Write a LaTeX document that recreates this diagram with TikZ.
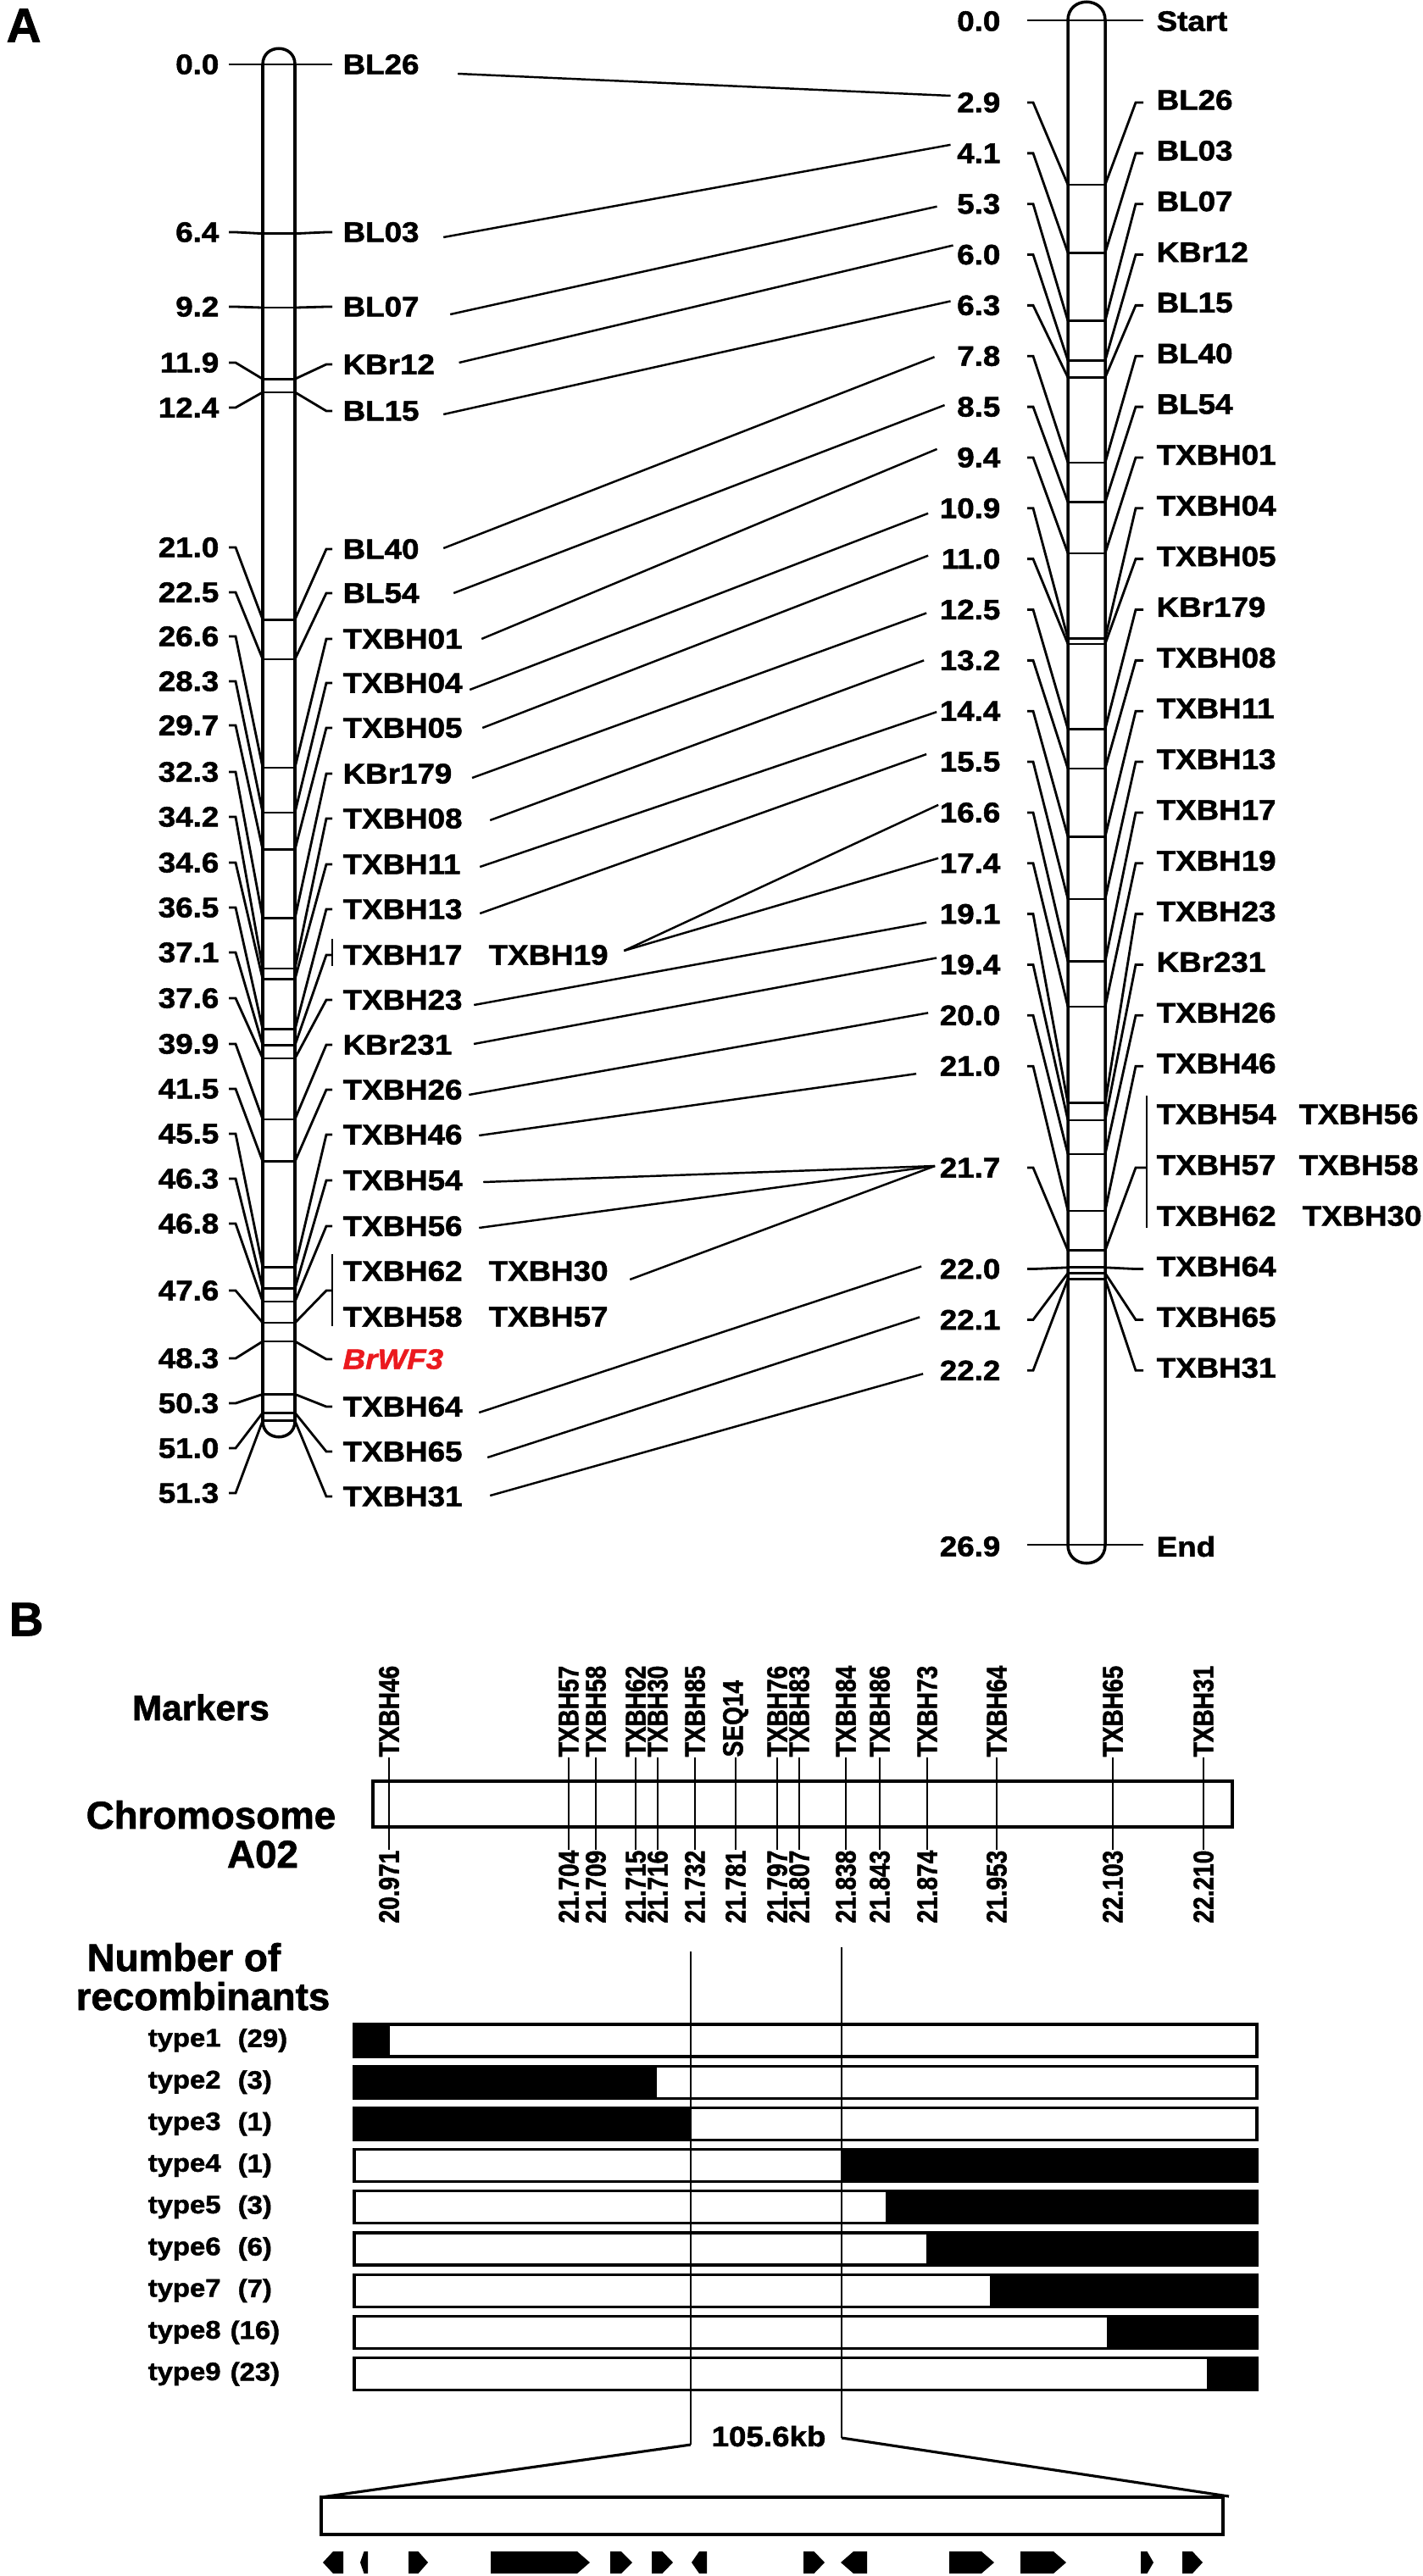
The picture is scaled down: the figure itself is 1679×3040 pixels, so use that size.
\documentclass[tikz,border=0pt]{standalone}
\usepackage{fontspec}
\setmainfont{Liberation Sans}
\newfontfamily\wideface{Liberation Sans}[FakeStretch=1.1,FakeBold=1.5]
\newfontfamily\narrowface{Liberation Sans}[FakeStretch=0.84,FakeBold=1.5]
\newfontfamily\headface{Liberation Sans}[FakeBold=1.5]
\usepackage{tikz}
\usetikzlibrary{calc}
\definecolor{wfred}{RGB}{235,25,30}
\tikzset{
	numnode/.style={anchor=east, inner sep=0pt, font=\wideface\bfseries\fontsize{9.5}{11}\selectfont},
	lblnode/.style={anchor=west, inner sep=0pt, font=\wideface\bfseries\fontsize{9.5}{11}\selectfont},
	mkname/.style={rotate=90, anchor=west, inner sep=0pt, font=\narrowface\bfseries\fontsize{9.5}{11}\selectfont},
	mkpos/.style={rotate=90, anchor=east, inner sep=0pt, font=\narrowface\bfseries\fontsize{9.5}{11}\selectfont},
	headnode/.style={inner sep=0pt, font=\headface\bfseries\fontsize{13}{15}\selectfont},
	typenode/.style={anchor=west, inner sep=0pt, font=\wideface\bfseries\fontsize{8.5}{10}\selectfont},
	conn/.style={line width=0.8pt},
	midline/.style={line width=0.7pt},
	chromline/.style={line width=1pt, fill=white},
	markline/.style={line width=0.75pt},
	barline/.style={line width=0.9pt}
}

\begin{document}
\begin{tikzpicture}[x=0.1mm,y=-0.1mm]
	\useasboundingbox (0,0) rectangle (1679,3040);
	\clip (0,0) rectangle (1679,3040);

	% panel A
	\node[anchor=west, inner sep=0pt, font=\headface\bfseries\fontsize{16}{18}\selectfont] (labA) at (7,30) {A};

	% left chromosome
	\draw[chromline] (310,76) -- (310,1677) .. controls (310,1702) and (348,1702) .. (348,1677) -- (348,76) .. controls (348,51) and (310,51) .. cycle;
	\foreach \v/\ry [count=\cnt] in {0.0/76, 6.4/274, 9.2/362, 11.9/428, 12.4/481, 21.0/646, 22.5/699, 26.6/751, 28.3/804, 29.7/856, 32.3/911, 34.2/964, 34.6/1018, 36.5/1071, 37.1/1124, 37.6/1178, 39.9/1232, 41.5/1285, 45.5/1338, 46.3/1391, 46.8/1444, 47.6/1523, 48.3/1603, 50.3/1656, 51.0/1709, 51.3/1762}{
		\node[numnode] (ln\cnt) at (259,\ry) {\v};
		\draw[conn] ($(ln\cnt.east)+(11,0)$) -- ++(8,0) -- (310,{76+\v*31.2});
		\draw[markline] (310,{76+\v*31.2}) -- (348,{76+\v*31.2});
	}
	\foreach \t/\v/\ry in {BL26/0.0/76, BL03/6.4/274, BL07/9.2/362, KBr12/11.9/430, BL15/12.4/485, BL40/21.0/648, BL54/22.5/700, TXBH01/26.6/754, TXBH04/28.3/806, TXBH05/29.7/859, KBr179/32.3/913, TXBH08/34.2/966, TXBH11/34.6/1020, TXBH13/36.5/1073, TXBH23/37.6/1180, KBr231/39.9/1233, TXBH26/41.5/1286, TXBH46/45.5/1339, TXBH54/46.3/1393, TXBH56/46.8/1447, TXBH64/50.3/1660, TXBH65/51.0/1713, TXBH31/51.3/1766}{
		\node[lblnode] (l\t) at (404,\ry) {\t};
		\draw[conn] (348,{76+\v*31.2}) -- (385,\ry) -- ($(l\t.west)+(-12,0)$);
	}
	% grouped labels
	\node[lblnode] (lTXBH17) at (404,1127) {TXBH17};
	\node[lblnode] (lTXBH19) at (576,1127) {TXBH19};
	\draw[conn] (392,1108) -- (392,1140);
	\draw[conn] (348,{76+37.1*31.2}) -- (385,1127) -- (392,1127);
	\node[lblnode] (lTXBH62) at (404,1500) {TXBH62};
	\node[lblnode] (lTXBH30) at (576,1500) {TXBH30};
	\node[lblnode] (lTXBH58) at (404,1554) {TXBH58};
	\node[lblnode] (lTXBH57) at (576,1554) {TXBH57};
	\draw[conn] (392,1480) -- (392,1565);
	\draw[conn] (348,{76+47.6*31.2}) -- (385,1523) -- (392,1523);
	\node[lblnode, text=wfred, font=\wideface\bfseries\itshape\fontsize{9.5}{11}\selectfont] (lBrWF3) at (404,1604) {BrWF3};
	\draw[conn] (348,{76+48.3*31.2}) -- (385,1604) -- ($(lBrWF3.west)+(-12,0)$);

	% right chromosome
	\draw[chromline] (1260,24) -- (1260,1823) .. controls (1260,1852) and (1304,1852) .. (1304,1823) -- (1304,24) .. controls (1304,-5) and (1260,-5) .. cycle;
	\node[numnode] (rs) at (1181,25) {0.0};
	\node[lblnode] (rStart) at (1364,25) {Start};
	\draw[conn] ($(rs.east)+(31,-1)$) -- ($(rStart.west)+(-15,-1)$);
	\node[numnode] (re) at (1181,1825) {26.9};
	\node[lblnode] (rEnd) at (1364,1825) {End};
	\draw[conn] ($(re.east)+(31,-2)$) -- ($(rEnd.west)+(-15,-2)$);
	\foreach \v/\i/\t in {2.9/0/BL26, 4.1/1/BL03, 5.3/2/BL07, 6.0/3/KBr12, 6.3/4/BL15, 7.8/5/BL40, 8.5/6/BL54, 9.4/7/TXBH01, 10.9/8/TXBH04, 11.0/9/TXBH05, 12.5/10/KBr179, 13.2/11/TXBH08, 14.4/12/TXBH11, 15.5/13/TXBH13, 16.6/14/TXBH17, 17.4/15/TXBH19, 19.1/16/TXBH23, 19.4/17/KBr231, 20.0/18/TXBH26, 21.0/19/TXBH46, 22.0/23/TXBH64, 22.1/24/TXBH65, 22.2/25/TXBH31}{
		\pgfmathsetmacro{\ry}{121+59.85*\i}
		\pgfmathsetmacro{\my}{24+\v*66.9}
		\node[numnode] (rn\i) at (1181,\ry) {\v};
		\node[lblnode] (r\t) at (1364,\ry-3) {\t};
		\draw[conn] ($(rn\i.east)+(31,0)$) -- ++(7,0) -- (1260,\my);
		\draw[markline] (1260,\my) -- (1304,\my);
		\draw[conn] (1304,\my) -- (1340,\ry) -- ($(r\t.west)+(-15,3)$);
	}
	% 21.7 group
	\node[numnode] (rn21) at (1181,1378) {21.7};
	\draw[conn] ($(rn21.east)+(31,0)$) -- ++(7,0) -- (1260,{24+21.7*66.9});
	\draw[markline] (1260,{24+21.7*66.9}) -- (1304,{24+21.7*66.9});
	\draw[conn] (1304,{24+21.7*66.9}) -- (1340,1378) -- (1353,1378);
	\draw[conn] (1353,1293) -- (1353,1449);
	\node[lblnode] (rTXBH54) at (1364,1315) {TXBH54};
	\node[lblnode] (rTXBH56) at (1532,1315) {TXBH56};
	\node[lblnode] (rTXBH57) at (1364,1375) {TXBH57};
	\node[lblnode] (rTXBH58) at (1532,1375) {TXBH58};
	\node[lblnode] (rTXBH62) at (1364,1435) {TXBH62};
	\node[lblnode] (rTXBH30) at (1536,1435) {TXBH30};

	% lines between the two maps
	\foreach \a/\sx/\sy/\b/\ex/\ey in {lBL26/45/11/0/7/-8, lBL03/28/6/1/7/-10, lBL07/36/9/2/23/3, lKBr12/28/-2/3/4/-11, lBL15/28/4/4/7/-5, lBL40/28/-1/5/26/1, lBL54/40/0/6/14/-2, lTXBH01/22/0/7/23/-10, lTXBH04/8/8/8/13/6, lTXBH05/23/0/9/15/-4, lKBr179/23/5/10/15/4, lTXBH08/32/2/11/18/0, lTXBH11/22/3/12/3/1, lTXBH13/20/5/13/15/-9, lTXBH19/18/-5/14/1/-9, lTXBH19/18/-5/15/1/-6, lTXBH23/13/6/16/15/10, lKBr231/25/-1/17/3/-8, lTXBH26/7/6/18/13/-3, lTXBH46/19/1/19/27/9, lTXBH54/24/2/21/5/-2, lTXBH56/19/2/21/5/-2, lTXBH30/25/10/21/5/-2, lTXBH64/19/7/23/21/-3, lTXBH65/29/7/24/23/-3, lTXBH31/32/-1/25/19/4}{
		\draw[midline] ($(\a.east)+(\sx,\sy)$) -- ($(rn\b.west)+(-\ex,\ey)$);
	}

	% panel B
	\node[anchor=west, inner sep=0pt, font=\headface\bfseries\fontsize{16}{18}\selectfont] (labB) at (10,1911) {B};
	\node[headnode, font=\headface\bfseries\fontsize{12}{14}\selectfont] (hmark) at (237,2015) {Markers};
	\node[headnode, anchor=base west] (hchrom) at (101,2158) {Chromosome};
	\node[headnode, anchor=base] (hA02) at (310,2204) {A02};
	\node[headnode, anchor=base west] (hnum) at (102,2326) {Number of};
	\node[headnode, anchor=base west] (hrec) at (89,2372) {recombinants};

	\draw[barline] (440,2102) rectangle (1454,2156);
	\foreach \t/\p/\x in {TXBH46/20.971/459, TXBH57/21.704/671, TXBH58/21.709/703, TXBH62/21.715/750, TXBH30/21.716/776, TXBH85/21.732/820, SEQ14/21.781/868, TXBH76/21.797/917, TXBH83/21.807/943, TXBH84/21.838/998, TXBH86/21.843/1038, TXBH73/21.874/1094, TXBH64/21.953/1176, TXBH65/22.103/1313, TXBH31/22.210/1420}{
		\node[mkname] (m\t) at (\x,2074) {\t};
		\node[mkpos] (p\t) at (\x,2183) {\p};
		\draw[line width=0.6pt] (m\t.west) -- (p\t.east);
	}

	% recombinant types
	\foreach \typ/\num/\px/\a/\b in {1/29/280/418/460, 2/3/280/418/775, 3/1/280/418/816, 4/1/280/992/1483, 5/3/280/1045/1483, 6/6/280/1093/1483, 7/7/280/1168/1483, 8/16/271/1306/1483, 9/23/271/1424/1483}{
		\pgfmathsetmacro{\tp}{2389+49.2*(\typ-1)}
		\node[typenode] (type\typ) at (174,\tp+19) {type\typ};
		\node[typenode] (cnt\typ) at (\px,\tp+19) {(\num)};
		\fill (\a,\tp) rectangle (\b,\tp+38);
		\draw[barline] (418,\tp) rectangle (1483,\tp+38);
	}

	% zoom to the 105.6 kb interval
	\coordinate (boxNW) at (379,2947);
	\coordinate (boxNE) at (1450,2946);
	\draw[line width=0.7pt] (815,2303) -- (815,2885);
	\draw[line width=0.7pt] (993,2298) -- (993,2877);
	\draw[barline] (815,2885) -- (boxNW);
	\draw[barline] (993,2877) -- (boxNE);
	\node[inner sep=0pt, font=\wideface\bfseries\fontsize{9.5}{11}\selectfont] (kb) at (907,2875) {105.6kb};
	\draw[barline] (boxNW) rectangle (1443,2991);

	% genes
	\foreach \a/\b in {405/381, 434/425, 482/505, 579/696, 720/746, 769/794, 834/816, 948/973, 1023/992, 1120/1173, 1204/1258, 1346/1361, 1395/1419}{
		\pgfmathsetmacro{\q}{\b-sign(\b-\a)*min(15,abs(\b-\a)*0.5)}
		\fill (\a,3011) -- (\q,3011) -- (\b,3024) -- (\q,3037) -- (\a,3037) -- cycle;
	}
\end{tikzpicture}
\end{document}
